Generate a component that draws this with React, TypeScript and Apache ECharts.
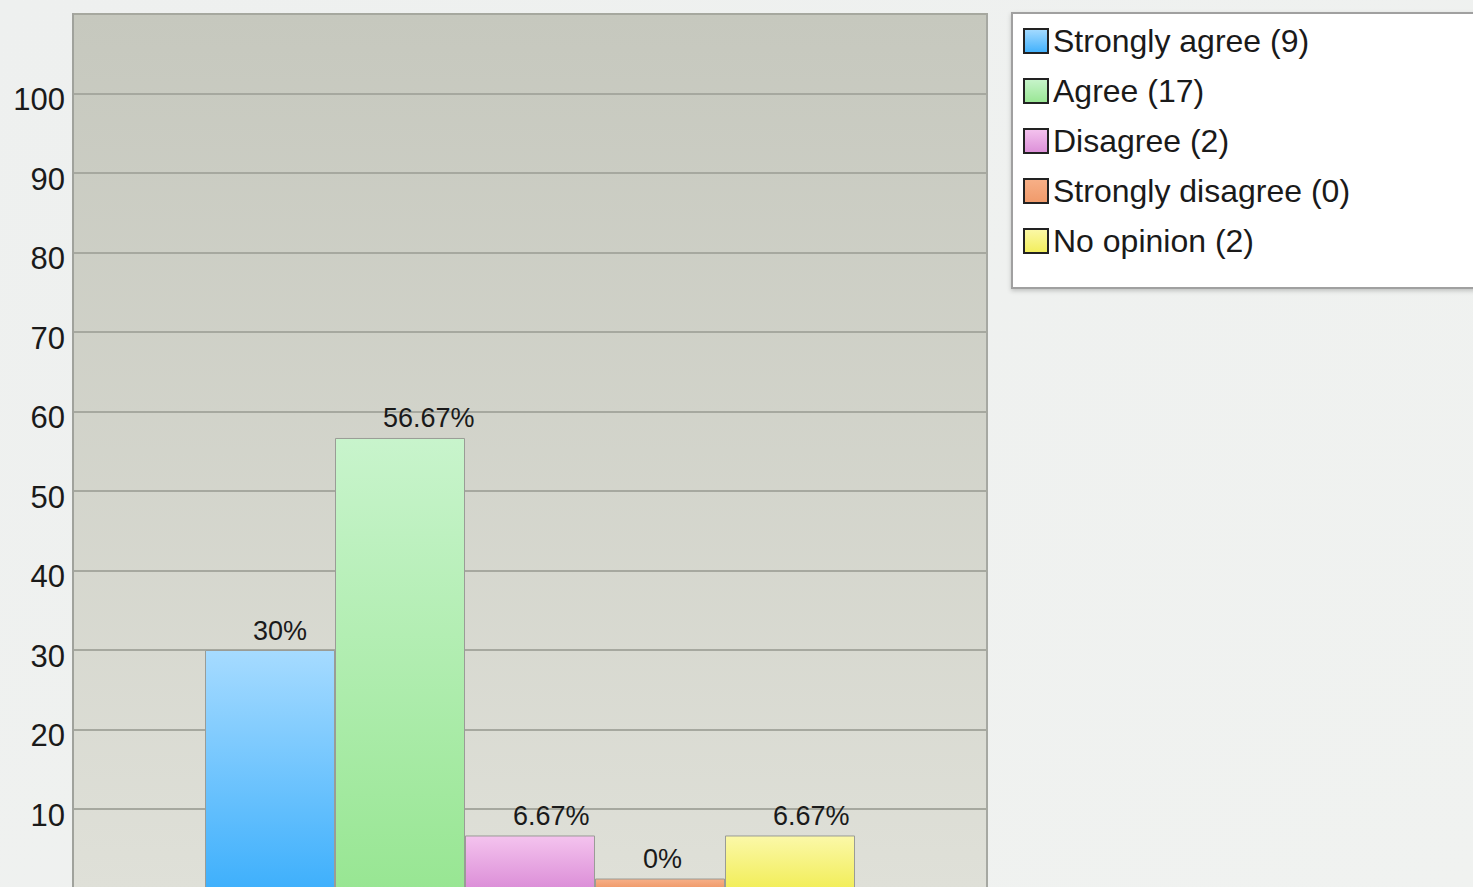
import React, { useEffect, useRef } from "react";
import * as echarts from "echarts";

const seriesNames = [
  "Strongly agree (9)",
  "Agree (17)",
  "Disagree (2)",
  "Strongly disagree (0)",
  "No opinion (2)",
];
const seriesValues = [30, 56.67, 6.67, 0, 6.67];
const seriesLabels = ["30%", "56.67%", "6.67%", "0%", "6.67%"];
const categories = ["Responses"];
const yTickLabels = [10, 20, 30, 40, 50, 60, 70, 80, 90, 100];

const gradients: [string, string][] = [
  ["#a6dbff", "#3fb0fc"],
  ["#c8f4cc", "#98e693"],
  ["#f4c3ee", "#dc8fd8"],
  ["#f7b088", "#f09a6a"],
  ["#fbf8a8", "#f2ee5a"],
];

export default function App() {
  const ref = useRef<HTMLDivElement>(null);
  useEffect(() => {
    if (!ref.current) return;
    const chart = echarts.init(ref.current, null, { renderer: "svg" });
    const font = "Liberation Sans, Arial, sans-serif";
    chart.setOption({
      animation: false,
      backgroundColor: new echarts.graphic.LinearGradient(0, 0, 1, 1, [
        { offset: 0, color: "#eef0ef" },
        { offset: 1, color: "#f0f2f0" },
      ]),
      grid: {
        left: 73,
        right: 486,
        top: 14,
        bottom: 11.5,
        show: true,
        borderColor: "#a6a8a2",
        borderWidth: 2,
        backgroundColor: new echarts.graphic.LinearGradient(0, 0, 0, 1, [
          { offset: 0, color: "#c6c8be" },
          { offset: 1, color: "#dfe0d8" },
        ]),
      },
      xAxis: {
        type: "category",
        data: categories,
        axisLine: { show: false },
        axisTick: { show: false },
        axisLabel: { show: false },
      },
      yAxis: {
        type: "value",
        min: 0,
        max: 110,
        interval: 10,
        axisLine: { show: true, lineStyle: { color: "#a0a29c", width: 2 } },
        axisTick: { show: false },
        axisLabel: {
          color: "#1a1a1a",
          fontSize: 31,
          fontFamily: font,
          margin: 8,
          verticalAlign: "top",
          lineHeight: 12,
          formatter: (v: number) => (yTickLabels.indexOf(v) >= 0 ? String(v) : ""),
        },
        splitLine: { lineStyle: { color: "#a6a89f", width: 2 } },
      },
      legend: {
        orient: "vertical",
        left: 1018,
        top: 20,
        z: 10,
        itemWidth: 24,
        itemHeight: 24,
        itemGap: 18,
        icon: "rect",
        itemStyle: { borderColor: "#222", borderWidth: 2 },
        textStyle: { color: "#1a1a1a", fontSize: 32, fontFamily: font },
        data: seriesNames,
      },
      graphic: [
        {
          type: "rect",
          z: 1,
          shape: { x: 1012, y: 13, width: 480, height: 275 },
          style: {
            fill: "#ffffff",
            stroke: "#a0a0a0",
            lineWidth: 2,
            shadowBlur: 4,
            shadowOffsetY: 2,
            shadowColor: "rgba(0,0,0,0.2)",
          },
        },
      ],
      series: seriesNames.map((name, i) => ({
        name,
        type: "bar",
        data: [seriesValues[i]],
        barWidth: 130,
        barGap: "0%",
        barMinHeight: 10,
        itemStyle: {
          color: new echarts.graphic.LinearGradient(0, 0, 0, 1, [
            { offset: 0, color: gradients[i][0] },
            { offset: 1, color: gradients[i][1] },
          ]),
          borderColor: "#9a9c96",
          borderWidth: 1,
        },
        label: {
          show: true,
          position: "top",
          distance: 6,
          align: "left",
          offset: [-17, 0],
          color: "#1a1a1a",
          fontSize: 27,
          fontFamily: font,
          formatter: () => seriesLabels[i],
        },
      })),
    });
    return () => chart.dispose();
  }, []);
  return (
    <div style={{ position: "fixed", left: 0, top: 0, width: 1473, height: 887, overflow: "hidden" }}>
      <div ref={ref} style={{ width: 1473, height: 900 }} />
    </div>
  );
}
